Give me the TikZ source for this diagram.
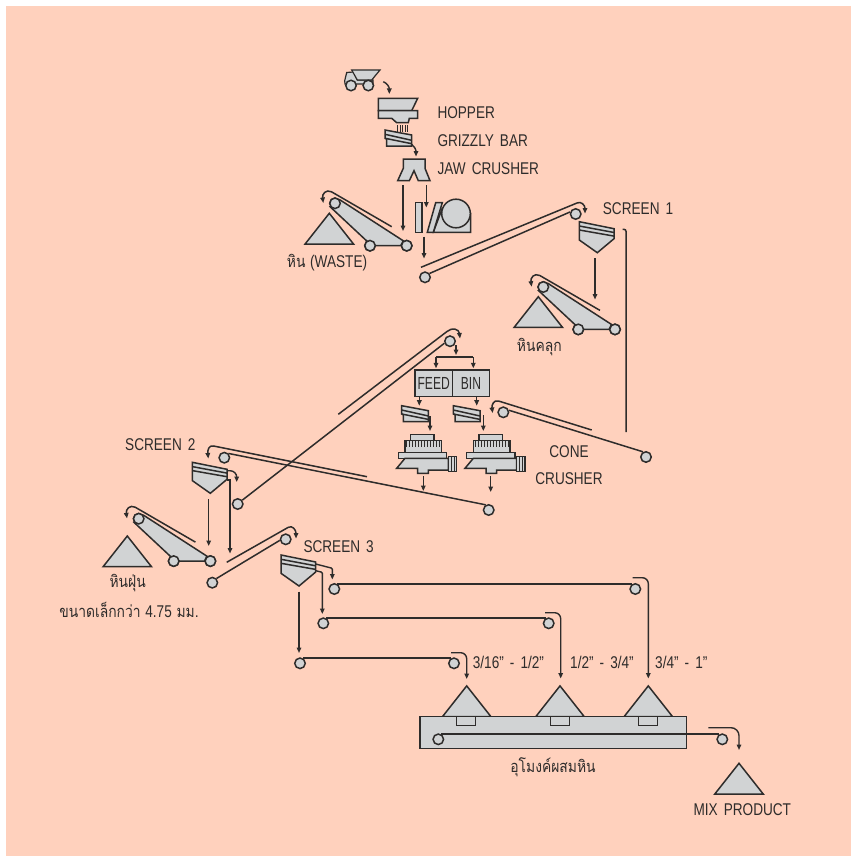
\documentclass[tikz,border=0pt]{standalone}
\usepackage{fontspec}
\setmainfont[FakeStretch=0.8,WordSpace=1.6]{Liberation Sans}
\newfontfamily\boxfont[FakeStretch=0.69]{Liberation Sans}
\newfontfamily\thaifont[Script=Thai,FakeStretch=0.84]{Loma}
\usetikzlibrary{arrows.meta}
\definecolor{bgpeach}{HTML}{FFD1BD}
\definecolor{fillgray}{HTML}{D1D3D4}
\definecolor{inkdark}{HTML}{2E2C2B}
\tikzset{
  every picture/.style={line join=miter},
  part/.style={draw=inkdark,fill=fillgray,line width=1.5pt},
  belt/.style={draw=inkdark,line width=1.5pt},
  flow/.style={draw=inkdark,line width=1.4pt,-{Triangle[length=5.5pt,width=4.5pt]}},
  beltflow/.style={draw=inkdark,line width=1.5pt,-{Triangle[length=5.5pt,width=4.5pt]}},
  rollerc/.style={circle,draw=inkdark,fill=fillgray,line width=1.5pt,inner sep=0pt,minimum size=10.5pt},
  lab/.style={text=inkdark,font=\fontsize{17}{18}\selectfont,inner sep=0pt},
  rlab/.style={lab,anchor=west},
  tlab/.style={text=inkdark,font=\thaifont\fontsize{16.5}{18}\selectfont,inner sep=0pt},
  boxlab/.style={text=inkdark,font=\boxfont\fontsize{17.5}{18}\selectfont,inner sep=0pt},
}
% pile: apex x, apex y
\newcommand{\pile}[2]{\draw[part] (#1,#2) -- ++(-24.2,30.7) -- ++(48.4,0) -- cycle;}
% stacker conveyor
\newcommand{\stacker}[3]{%
 \begin{scope}[shift={(#2,#3)}]
  \node[rollerc] (#1a) at (335,203.3) {};
  \node[rollerc] (#1b) at (370,245.7) {};
  \node[rollerc] (#1c) at (406.7,245.7) {};
  \draw[part] (#1a.35) -- (#1c.125) -- (#1c.west) -- (#1b.east) -- (#1b.125) -- (#1a.215) -- cycle;
  \node[rollerc] at (#1a) {};\node[rollerc] at (#1b) {};\node[rollerc] at (#1c) {};
  \coordinate (#1u) at (391.7,226.7);
  \coordinate (#1v) at (323.3,203);
  \draw[beltflow] (#1u) -- (331.5,191.8) .. controls (326,189) and (322,194) .. (#1v);
 \end{scope}}
% grizzly
\newcommand{\grizzly}[2]{%
 \begin{scope}[shift={(#1,#2)}]
  \draw[part] (0,0) -- (26.7,5) -- (26.7,16) -- (1.7,16) -- (1.7,9) -- (0,8.3) -- cycle;
  \draw[belt] (0,4.3) -- (26.7,10.3) (0,8.3) -- (26.7,13.7);
 \end{scope}}
% screen
\newcommand{\screenbox}[2]{%
 \begin{scope}[shift={(#1,#2)}]
  \draw[part] (0,0) -- (34.7,7) -- (34.7,17) -- (18,31) -- (0,18.3) -- cycle;
  \draw[belt] (0,4.3) -- (34.7,10.8) (0,8.3) -- (34.7,14.4);
 \end{scope}}
% cone crusher
\newcommand{\cone}[2]{%
 \begin{scope}[shift={(#1,#2)}]
  \draw[part] (14,0) rectangle (37.3,6.3);
  \draw[part] (8.3,6.3) rectangle (45,18.3);
  \foreach \hx in {10,13,...,43} {\draw[draw=inkdark,line width=0.8pt] (\hx,6.5) -- (\hx,12.5);}
  \draw[part] (1.7,18.3) rectangle (50,24);
  \draw[part] (0,34) -- (8.3,24) -- (51.7,24) -- (51.7,35.7) -- (31.7,35.7) -- (31.7,39) -- (21,39) -- (21,34) -- cycle;
  \draw[part] (51.7,22.3) rectangle (60,37.3);
  \draw[draw=inkdark,line width=0.8pt] (54.5,22.3) -- (54.5,37.3) (57.2,22.3) -- (57.2,37.3);
 \end{scope}}
\begin{document}
\begin{tikzpicture}[x=1pt,y=-1pt]
\useasboundingbox (0,0) rectangle (851,856);
\fill[bgpeach] (6,6) rectangle (851,856);

% --- truck
\draw[part,line width=1.2pt] (344.7,80.7) -- (346.7,72.5) -- (353.5,72) -- (357.3,80) -- (373,80) -- (373,84) -- (345,84) -- cycle;
\draw[part,line width=1.2pt] (351.7,70) -- (380,70) -- (371.7,80) -- (357.3,80) -- cycle;
\node[rollerc] (wheelA) at (351,85.5) {};
\node[rollerc] (wheelB) at (368.3,85.5) {};
\coordinate (truckOut) at (383.3,81.7);
\coordinate (hopperIn) at (389.3,94);
\draw[flow] (truckOut) .. controls (387,83) and (389.3,87) .. (hopperIn);

% --- hopper
\draw[part] (378.3,98.3) -- (417.7,98.3) -- (411.7,110.7) -- (378.3,110.7) -- cycle;
\draw[part] (378.3,110.7) -- (417.7,110.7) -- (417.7,118.3) -- (409.3,118.3) -- (408.3,122.7) -- (396.7,122.7) -- (391.7,118.3) -- (378.3,118.3) -- cycle;
\foreach \sx in {397.3,400,402.7,405.3,407.7}{\draw[draw=inkdark,line width=0.7pt] (\sx,125.5) -- (\sx,131.7);}
\grizzly{385}{130}
\coordinate (gOut) at (411.7,144.3);
\coordinate (jawIn) at (416,156.5);
\draw[flow] (gOut) .. controls (414.5,146) and (416,150) .. (jawIn);

% --- jaw crusher
\draw[part] (403.3,159) -- (425,159) -- (425,168.3) -- (430,180.7) -- (418.3,180.7) -- (414,170.7) -- (409.3,180.7) -- (397.7,180.7) -- (403.3,168.3) -- cycle;
\coordinate (jA) at (403,185); \coordinate (jAe) at (403,231);
\coordinate (jB) at (426.3,185); \coordinate (jBe) at (426.3,207.5);
\draw[flow] (jA) -- (jAe);
\draw[flow] (jB) -- (jBe);

% --- feeder / motor
\draw[part] (415.3,202.7) rectangle (422,232.3);
\draw[part] (442,209) -- (433.3,232.3) -- (470.7,232.3) -- (470.7,213.3) -- cycle;
\draw[part] (435.7,202.7) -- (442.3,202.7) -- (433.3,232.3) -- (427.3,232.3) -- cycle;
\node[rollerc,minimum size=28.6pt] (drum) at (456,213.5) {};
\coordinate (fA) at (424,236.7); \coordinate (fAe) at (424,258.5);
\draw[flow] (fA) -- (fAe);

\stacker{sa}{0}{0}
\pile{329.3}{213.3}
\node[tlab] (wasteTh) at (327,262.3) {หิน {\rmfamily\fontsize{17}{18}\selectfont (WASTE)}};
\node[rlab] (lHop) at (437.3,112.7) {HOPPER};
\node[rlab] (lGri) at (437.3,140.7) {GRIZZLY BAR};
\node[rlab] (lJaw) at (437.3,168.7) {JAW CRUSHER};

% --- long conveyor 1
\node[rollerc] (c1a) at (425,277.3) {};
\node[rollerc] (c1b) at (575.7,214) {};
\draw[belt] (c1a.40) -- (c1b.160);
\coordinate (c1s) at (421,267.3);
\coordinate (c1e) at (585,213.5);
\draw[beltflow] (c1s) -- (577,203) .. controls (581,201) and (585,205) .. (c1e);
\node[rlab] (lS1) at (602.7,209) {SCREEN 1};

% --- screen 1
\screenbox{579.3}{221.7}
\coordinate (s1a) at (595,258.3); \coordinate (s1ae) at (595,299.5);
\draw[flow] (s1a) -- (s1ae);
\coordinate (s1o) at (622.7,229.3); \coordinate (s1oe) at (626,432);
\draw[belt,rounded corners=2pt] (s1o) -- (626,229.3) -- (s1oe);

\stacker{sb}{208.3}{83.7}
\pile{538.3}{296.7}
\node[tlab] (lKluk) at (539.3,346.7) {หินคลุก};

% --- feed conveyor
\node[rollerc] (c2a) at (237.7,504) {};
\node[rollerc] (c2b) at (450,341.2) {};
\draw[belt] (c2a.40) -- (c2b.200);
\coordinate (c2s) at (338.3,414.3);
\coordinate (c2e) at (460,338.5);
\draw[beltflow] (c2s) -- (447,331.5) .. controls (452,327) and (459,329) .. (c2e);
\coordinate (c2d) at (456,345); \coordinate (c2de) at (456,355);
\draw[flow] (c2d) -- (c2de);
\coordinate (binL) at (436,368.3); \coordinate (binR) at (473.3,368.3);
\draw[flow] (436,357) -- (binL);
\draw[flow] (473.3,357) -- (binR);
\draw[belt] (436,357) -- (473.3,357);

% --- feed bin
\node[part,boxlab,minimum width=37.3pt,minimum height=26.7pt,outer sep=0pt] (feed) at (433.7,383.3) {FEED};
\node[part,boxlab,minimum width=37.3pt,minimum height=26.7pt,outer sep=0pt] (bin) at (471,383.3) {BIN};
\coordinate (feedO) at (419.3,396.7); \coordinate (feedOe) at (419.3,405.7);
\coordinate (binO) at (476.7,396.7); \coordinate (binOe) at (476.7,405.7);
\draw[flow] (feedO) -- (feedOe);
\draw[flow] (binO) -- (binOe);
\grizzly{401.7}{405.7}
\grizzly{453.3}{405.7}
\coordinate (g2o) at (430,416); \coordinate (g2oe) at (430,431);
\coordinate (g3o) at (483.3,415.3); \coordinate (g3oe) at (483.3,431);
\draw[flow] (g2o) -- (g2oe);
\draw[flow] (g3o) -- (g3oe);
\cone{396.7}{434.3}
\cone{465}{434.3}
\coordinate (k1) at (423.3,476); \coordinate (k1e) at (423.3,491);
\coordinate (k2) at (490.7,476); \coordinate (k2e) at (490.7,492);
\draw[flow] (k1) -- (k1e);
\draw[flow] (k2) -- (k2e);
\node[lab] (lCone) at (569,451.7) {CONE};
\node[lab] (lCru) at (569,478.7) {CRUSHER};

% --- return conveyor right
\node[rollerc] (c3a) at (503.3,412.3) {};
\node[rollerc] (c3b) at (646,457) {};
\draw[belt] (c3a.20) -- (c3b.120);
\coordinate (c3s) at (591.7,430); \coordinate (c3e) at (492.7,413);
\draw[beltflow] (c3s) -- (498.5,401) .. controls (494,399.5) and (491.5,405) .. (c3e);

% --- return conveyor left
\node[rollerc] (c4a) at (224.3,457.7) {};
\node[rollerc] (c4b) at (488.7,510) {};
\draw[belt] (c4a.45) -- (c4b.120);
\coordinate (c4s) at (367,476.7); \coordinate (c4e) at (208.3,458.5);
\draw[beltflow] (c4s) -- (213.5,446) .. controls (209,445) and (207.5,450) .. (c4e);
\node[rlab] (lS2) at (125,445) {SCREEN 2};

% --- screen 2
\screenbox{192.3}{462.3}
\coordinate (s2a) at (208.7,499.3); \coordinate (s2ae) at (208.7,546);
\coordinate (s2b) at (227.3,470.7); \coordinate (s2be) at (236.7,482);
\coordinate (s2c) at (227.3,480); \coordinate (s2ce) at (230,553.5);
\draw[flow] (s2a) -- (s2ae);
\draw[flow] (s2b) -- (230,470.7) .. controls (234,470.7) and (236.7,474) .. (s2be);
\draw[flow] (s2c) -- (230,480) -- (s2ce);

\stacker{sc}{-196.3}{315.4}
\pile{127.3}{536}
\node[tlab] (lFun) at (127.7,583.3) {หินฝุ่น};
\node[tlab] (lSmall) at (129,610) {ขนาดเล็กกว่า {\rmfamily\fontsize{17}{18}\selectfont 4.75} มม.};

% --- conveyor to screen 3
\node[rollerc] (c5a) at (212.3,582.7) {};
\node[rollerc] (c5b) at (285.7,539.3) {};
\draw[belt] (c5a.45) -- (c5b.190);
\coordinate (c5s) at (226.7,562.3); \coordinate (c5e) at (296,538.5);
\draw[beltflow] (c5s) -- (288.3,527.3) .. controls (292.5,525) and (296,530) .. (c5e);
\node[rlab] (lS3) at (303.3,547) {SCREEN 3};

% --- screen 3
\screenbox{281}{555}
\coordinate (s3a) at (315.7,564); \coordinate (s3ae) at (332.3,579.5);
\coordinate (s3b) at (315.7,570.7); \coordinate (s3be) at (322.3,614);
\coordinate (s3c) at (299,591.7); \coordinate (s3ce) at (299,653);
\draw[flow,rounded corners=1pt] (s3a) -- (332.3,568.3) -- (s3ae);
\draw[flow,rounded corners=1pt] (s3b) -- (322.3,572.3) -- (s3be);
\draw[flow] (s3c) -- (s3ce);

% --- product conveyors
\node[rollerc] (p1a) at (334.3,589) {};
\node[rollerc] (p1b) at (635.3,589) {};
\draw[belt] (p1a.60) -- (p1b.120);
\coordinate (p1s) at (632.7,577.7); \coordinate (p1e) at (648.3,678.5);
\draw[flow,rounded corners=6pt] (p1s) -- (648.3,577.7) -- (p1e);
\node[rollerc] (p2a) at (323.3,623.3) {};
\node[rollerc] (p2b) at (548.7,623.3) {};
\draw[belt] (p2a.60) -- (p2b.120);
\coordinate (p2s) at (545,612.7); \coordinate (p2e) at (560.7,678.5);
\draw[flow,rounded corners=6pt] (p2s) -- (560.7,612.7) -- (p2e);
\node[rollerc] (p3a) at (300,663.3) {};
\node[rollerc] (p3b) at (454,663.3) {};
\draw[belt] (p3a.60) -- (p3b.120);
\coordinate (p3s) at (451,652.7); \coordinate (p3e) at (466.7,679);
\draw[flow,rounded corners=6pt] (p3s) -- (466.7,652.7) -- (p3e);
\node[rlab] (lA) at (472.7,662.7) {3/16" - 1/2"};
\node[rlab] (lB) at (570,662.7) {1/2" - 3/4"};
\node[rlab] (lC) at (655,662.7) {3/4" - 1"};

% --- tunnel
\pile{466.7}{685.9}
\pile{560}{685.9}
\pile{648.3}{685.9}
\draw[part] (420,716.7) rectangle (686.7,748.3);
\draw[part] (456.7,716.7) rectangle (475.7,725.7);
\draw[part] (550.7,716.7) rectangle (569.3,725.7);
\draw[part] (638.7,716.7) rectangle (657.3,725.7);
\node[rollerc] (t1) at (438.3,739.3) {};
\node[rollerc] (t2) at (722.3,739.3) {};
\draw[belt] (t1.60) -- (t2.120);
\coordinate (t3) at (708.3,727.7); \coordinate (t4) at (739,750);
\draw[flow,rounded corners=8pt] (t3) -- (739,727.7) -- (t4);
\node[tlab] (lTun) at (553,767.3) {อุโมงค์ผสมหิน};
\pile{739}{763.3}
\node[lab] (lMix) at (742.3,809.3) {MIX PRODUCT};
\end{tikzpicture}
\end{document}
